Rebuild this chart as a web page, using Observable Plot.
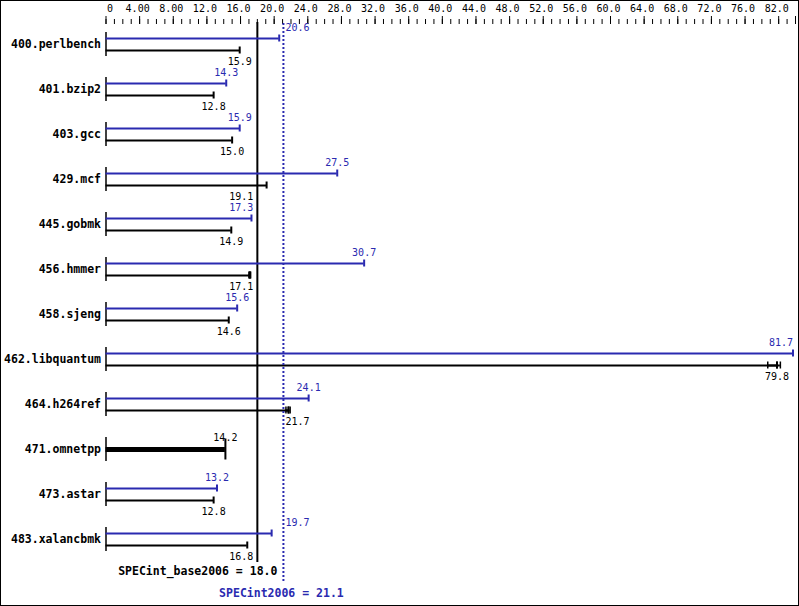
<!DOCTYPE html>
<html><head><meta charset="utf-8">
<script src="https://cdn.jsdelivr.net/npm/d3@7"></script>
<script src="https://cdn.jsdelivr.net/npm/@observablehq/plot@0.6"></script>
<style>
body{margin:0;background:#fff}
#chart{width:797px;height:604px;border:1px solid #000;background:#fff}
#chart svg{display:block}
</style></head><body><div id="chart"></div>
<script>
const benchmarks = ["400.perlbench","401.bzip2","403.gcc","429.mcf","445.gobmk","456.hmmer","458.sjeng","462.libquantum","464.h264ref","471.omnetpp","473.astar","483.xalancbmk"];
const baseRatios = [15.9,12.8,15.0,19.1,14.9,17.1,14.6,79.8,21.7,14.2,12.8,16.8];
const peakRatios = [20.6,14.3,15.9,27.5,17.3,30.7,15.6,81.7,24.1,null,13.2,19.7];
const baseScore = 18.0;
const peakScore = 21.1;
const runBenchmarks = ["456.hmmer","462.libquantum","464.h264ref"];
const runRatios = [[17.0,17.1,17.2],[78.7,79.8,80.2],[21.4,21.7,21.9]];
const tickLabelValues = [4,8,12,16,20,24,28,32,36,40,44,48,52,56,60,64,68,72,76,80];
const tickLabels = ["4.00","8.00","12.0","16.0","20.0","24.0","28.0","32.0","36.0","40.0","44.0","48.0","52.0","56.0","60.0","64.0","68.0","72.0","76.0","82.0"];
const majorTicks = [0,4,8,12,16,20,24,28,32,36,40,44,48,52,56,60,64,68,72,76,80,82];
const minorTicks = d3.range(0, 83, 1);

const BLUE = "#2a2ab0";
const MONO = "DejaVu Sans Mono";
const X0 = 104.5, X1 = 794;
const xs = d3.scaleLinear([0, 82], [X0, X1]);
const fmt = d3.format(".1f");
const half = 12;

function place(v) {
  const px = xs(v), b = xs(baseScore), p = xs(peakScore);
  if (px + half > X1 + 2) return {x: v, anchor: "end", dx: 0};
  if (px - half < b + 2 && px + half > b - 2) return {x: baseScore, anchor: "end", dx: -4};
  if (px - half < p + 2 && px + half > p - 2) return {x: peakScore, anchor: "start", dx: 2};
  return {x: v, anchor: "middle", dx: 0};
}

const rows = benchmarks.map((name, i) => ({name, i, base: baseRatios[i], peak: peakRatios[i]}));
const paired = rows.filter(d => d.peak != null);
const baseOnly = rows.filter(d => d.peak == null);
const runRows = runBenchmarks.flatMap((b, k) => runRatios[k].map(v => ({i: benchmarks.indexOf(b), v})));
const runSpans = runBenchmarks.map((b, k) => ({i: benchmarks.indexOf(b), lo: d3.min(runRatios[k]), hi: d3.max(runRatios[k])}));

const labels = [];
paired.forEach(d => {
  labels.push({...place(d.peak), i: d.i, t: fmt(d.peak), fill: BLUE, dy: -16.5});
  labels.push({...place(d.base), i: d.i, t: fmt(d.base), fill: "black", dy: 17.5});
});
baseOnly.forEach(d => labels.push({...place(d.base), i: d.i, t: fmt(d.base), fill: "black", dy: -12}));

const labelMarks = d3.groups(labels, d => `${d.anchor}|${d.dx}|${d.dy}`).map(([k, arr]) =>
  Plot.text(arr, {x: "x", y: "i", text: "t", fill: "fill", textAnchor: arr[0].anchor, dx: arr[0].dx, dy: arr[0].dy, fontSize: 10, fontFamily: MONO}));

const chart = Plot.plot({
  width: 797, height: 604,
  marginTop: 22, marginBottom: 43, marginLeft: 0, marginRight: 0,
  x: {domain: [0, 82], range: [X0, X1], label: null},
  y: {domain: [0, 11], range: [43, 538], axis: null},
  color: {type: "identity"},
  style: {fontFamily: MONO, fontSize: "10px", background: "white", color: "black", overflow: "visible"},
  marks: [
    Plot.axisX({anchor: "top", ticks: minorTicks, tickSize: 5, tickFormat: () => ""}),
    Plot.axisX({anchor: "top", ticks: majorTicks, tickSize: 8, tickFormat: () => ""}),
    Plot.axisX({anchor: "top", ticks: tickLabelValues, tickSize: 0, tickPadding: 12, dx: -2, fontSize: 10, fontFamily: MONO,
      tickFormat: d => tickLabels[tickLabelValues.indexOf(d)]}),
    Plot.axisX({anchor: "top", ticks: [0], tickSize: 0, tickPadding: 12, textAnchor: "start", dx: 1, fontSize: 10, fontFamily: MONO, tickFormat: () => "0"}),
    Plot.ruleX([baseScore], {x: d => d, stroke: "black", strokeWidth: 2, insetTop: -1}),
    Plot.ruleX(rows, {x: () => 0, y1: "i", y2: "i", insetTop: -12, insetBottom: -12, stroke: "black", strokeWidth: 1.5}),
    Plot.ruleY(paired, {x1: () => 0, x2: "peak", y: "i", dy: -6, stroke: BLUE, strokeWidth: 2}),
    Plot.ruleX(paired, {x: "peak", y1: "i", y2: "i", dy: -6, insetTop: -3.5, insetBottom: -3.5, stroke: BLUE, strokeWidth: 2}),
    Plot.ruleY(paired, {x1: () => 0, x2: "base", y: "i", dy: 6, stroke: "black", strokeWidth: 2}),
    Plot.ruleX(paired, {x: "base", y1: "i", y2: "i", dy: 6, insetTop: -3.5, insetBottom: -3.5, stroke: "black", strokeWidth: 2}),
    Plot.ruleY(runSpans, {x1: "lo", x2: "hi", y: "i", dy: 6, stroke: "black", strokeWidth: 2}),
    Plot.ruleX(runRows, {x: "v", y1: "i", y2: "i", dy: 6, insetTop: -3.5, insetBottom: -3.5, stroke: "black", strokeWidth: 1.5}),
    Plot.ruleY(baseOnly, {x1: () => 0, x2: "base", y: "i", stroke: "black", strokeWidth: 5}),
    Plot.ruleX(baseOnly, {x: "base", y1: "i", y2: "i", insetTop: -10.5, insetBottom: -10.5, stroke: "black", strokeWidth: 2}),
    Plot.ruleX([peakScore], {x: d => d, stroke: BLUE, strokeWidth: 2, strokeDasharray: "2,2", insetBottom: -21}),
    ...labelMarks,
    Plot.text(rows, {x: () => 0, y: "i", text: "name", dx: -5, textAnchor: "end", fontWeight: "bold", fontSize: 11.5, fontFamily: MONO}),
    Plot.text([{t: `SPECint_base2006 = ${fmt(baseScore)}`}], {x: () => peakScore, text: "t", frameAnchor: "bottom", textAnchor: "end", dx: -6, dy: 12.5, fontWeight: "bold", fontSize: 11.5, fontFamily: MONO, fill: "black"}),
    Plot.text([{t: `SPECint2006 = ${fmt(peakScore)}`}], {x: () => peakScore, text: "t", frameAnchor: "bottom", textAnchor: "middle", dx: -2, dy: 34.5, fontWeight: "bold", fontSize: 11.5, fontFamily: MONO, fill: BLUE})
  ]
});
document.getElementById("chart").appendChild(chart);
</script></body></html>
